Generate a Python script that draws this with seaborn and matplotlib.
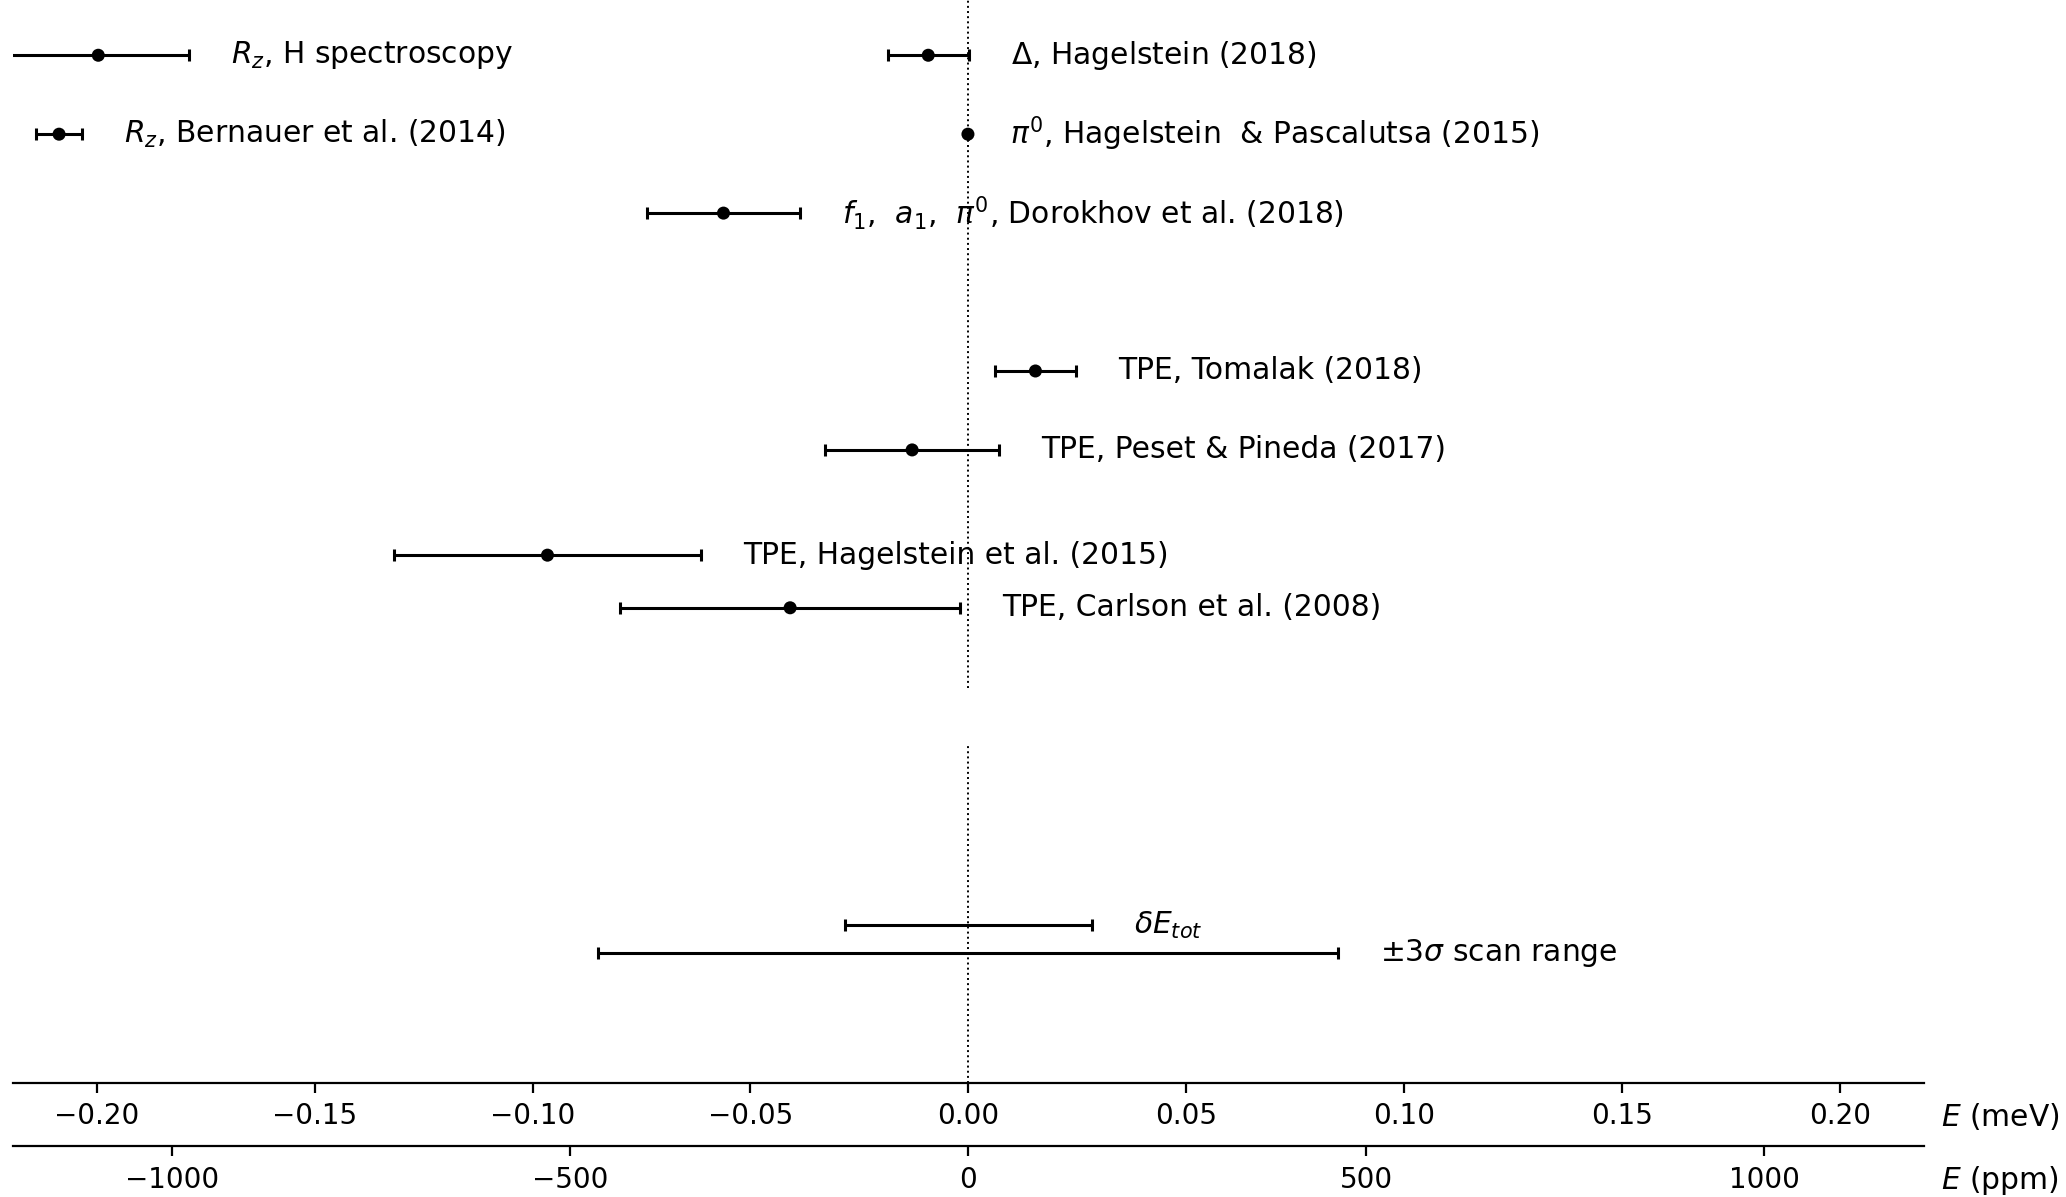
import matplotlib
matplotlib.use("Agg")
import matplotlib.pyplot as plt
import numpy as np
import pandas as pd
import seaborn as sns

# Ground-state hyperfine splitting of muonic hydrogen (meV), used for the ppm scale
HFS_MEV = 182.725

# Individual contributions (meV) with 1-sigma uncertainties
labels = [
    r"$R_z$, H spectroscopy",
    r"$R_z$, Bernauer et al. (2014)",
    r"$\Delta$, Hagelstein (2018)",
    r"$\pi^0$, Hagelstein  & Pascalutsa (2015)",
    r"$f_1$,  $a_1$,  $\pi^0$, Dorokhov et al. (2018)",
    "TPE, Tomalak (2018)",
    "TPE, Peset & Pineda (2017)",
    "TPE, Hagelstein et al. (2015)",
    "TPE, Carlson et al. (2008)",
]
values = [-0.1997, -0.2087, -0.0092, -0.00009, -0.0562, 0.0154, -0.0129, -0.0966, -0.0409]
errors = [0.0208, 0.0053, 0.0093, 0.0, 0.0176, 0.0092, 0.0200, 0.0353, 0.0390]
rows = [21, 18, 21, 18, 15, 9, 6, 2, 0]

# Total uncertainty and the resulting search window
budget_labels = [r"$\delta E_{tot}$", r"$\pm 3\sigma$ scan range"]
budget_half_widths = [0.0283, 0.0849]
budget_rows = [1, 0]

ppm_ticks = [-1000, -500, 0, 500, 1000]
mev_ticks = [-0.20, -0.15, -0.10, -0.05, 0.00, 0.05, 0.10, 0.15, 0.20]
x_range_ppm = 1200

contrib = pd.DataFrame({"label": labels, "E": values, "err": errors, "row": rows})
budget = pd.DataFrame({"label": budget_labels, "E": 0.0,
                       "err": budget_half_widths, "row": budget_rows})

sns.set_style("white")
plt.rcParams["font.family"] = ["DejaVu Sans"]
plt.rcParams["mathtext.fontset"] = "dejavusans"
plt.rcParams["text.color"] = "black"
plt.rcParams["xtick.color"] = "black"
plt.rcParams["axes.edgecolor"] = "black"


def to_ppm(e):
    return np.asarray(e) / HFS_MEV * 1e6


def to_mev(p):
    return np.asarray(p) * HFS_MEV * 1e-6


xlim = (to_mev(-x_range_ppm), to_mev(x_range_ppm))
label_gap = 0.0097
bar_kw = dict(fmt="none", ecolor="black", elinewidth=1.1, capsize=2.2, capthick=1.1)
text_kw = dict(ha="left", va="center", fontsize=10.7)

fig = plt.figure(figsize=(10.33, 5.985), dpi=200)
ax_t = fig.add_axes([0.0063, 0.4252, 0.9248, 0.5748])
ax_b = fig.add_axes([0.0063, 0.0952, 0.9248, 0.2815])

# upper panel: individual contributions
ax_t.errorbar(contrib["E"], contrib["row"], xerr=contrib["err"], **bar_kw)
sns.scatterplot(data=contrib, x="E", y="row", ax=ax_t, color="black",
                s=22, edgecolor="none", zorder=3, legend=False)
for _, r in contrib.iterrows():
    ax_t.text(r["E"] + r["err"] + label_gap, r["row"], r["label"], **text_kw)
ax_t.axvline(0, color="black", ls=":", lw=0.7, zorder=0)
ax_t.set_xlim(*xlim)
ax_t.set_ylim(-3.05, 23.1)
ax_t.axis("off")

# lower panel: total uncertainty and scan range
ax_b.errorbar(budget["E"], budget["row"], xerr=budget["err"], **bar_kw)
for _, r in budget.iterrows():
    ax_b.text(r["E"] + r["err"] + label_gap, r["row"], r["label"], **text_kw)
ax_b.axvline(0, color="black", ls=":", lw=0.7, zorder=0)
ax_b.set_xlim(*xlim)
ax_b.set_ylim(-4.72, 7.49)
ax_b.set_yticks([])
for side in ("left", "right", "top"):
    ax_b.spines[side].set_visible(False)
ax_b.set_xticks(mev_ticks)
ax_b.set_xticklabels([f"{t:.2f}".replace("-", "\u2212") for t in mev_ticks])
ax_b.tick_params(axis="x", direction="out", length=3.5, width=0.8, labelsize=10,
                 bottom=True)
ax_b.set_xlabel("")
ax_b.text(1.009, -0.098, r"$E$ (meV)", transform=ax_b.transAxes, **text_kw)

sec = ax_b.secondary_xaxis(-0.187, functions=(to_ppm, to_mev))
sec.set_xticks(ppm_ticks)
sec.set_xticklabels([str(t).replace("-", "\u2212") for t in ppm_ticks])
sec.tick_params(axis="x", direction="out", length=3.5, width=0.8, labelsize=10)
ax_b.text(1.009, -0.29, r"$E$ (ppm)", transform=ax_b.transAxes, **text_kw)

fig.savefig("out.png", dpi=200)
